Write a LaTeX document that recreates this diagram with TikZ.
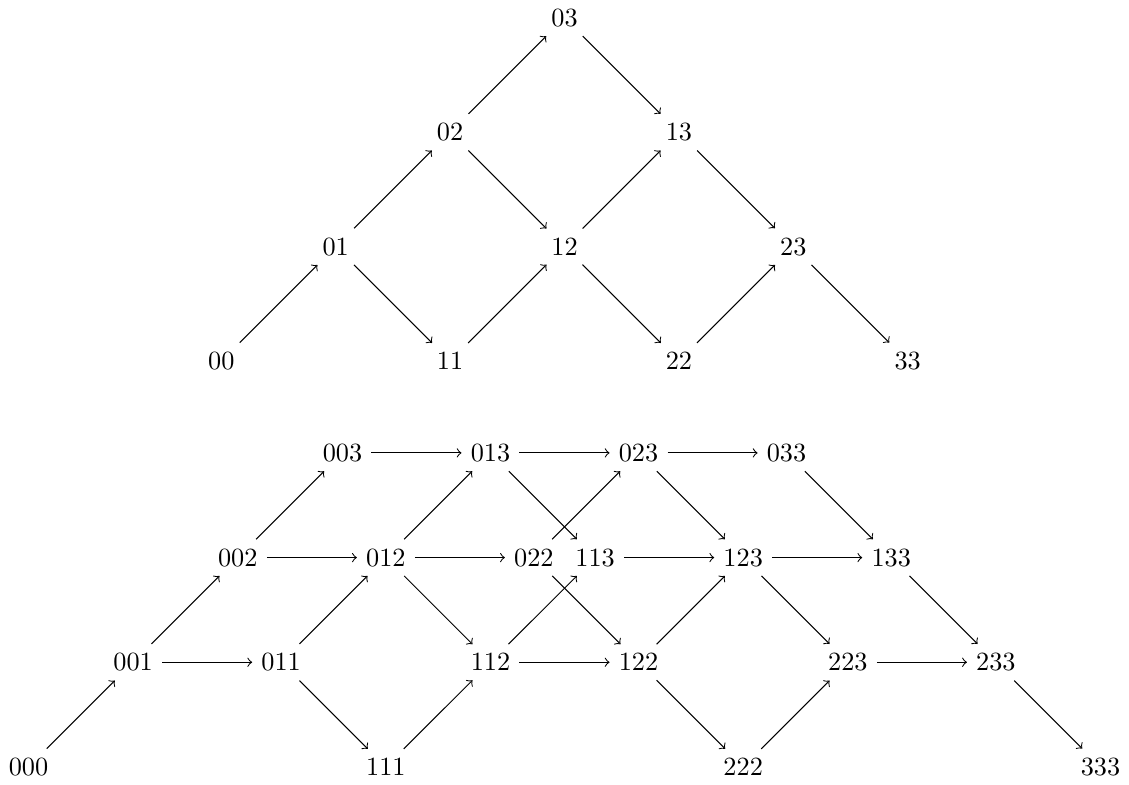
\documentclass[tikz,border=0pt]{standalone}
\begin{document}
\begin{tikzpicture}[>=to,
		every node/.style = {shape=rectangle, align=center},
		arr/.style = {->}]
		\node (t00) at (2.58,5.43) {00};
		\node (t01) at (4.11,6.96) {01};
		\node (t02) at (5.64,8.49) {02};
		\node (t03) at (7.17,10.02) {03};
		\node (t11) at (5.64,5.43) {11};
		\node (t12) at (7.17,6.96) {12};
		\node (t13) at (8.70,8.49) {13};
		\node (t22) at (8.70,5.43) {22};
		\node (t23) at (10.23,6.96) {23};
		\node (t33) at (11.76,5.43) {33};
		\path[arr] (t00) edge (t01)
			(t01) edge (t02) edge (t11)
			(t02) edge (t03) edge (t12)
			(t03) edge (t13)
			(t11) edge (t12)
			(t12) edge (t13) edge (t22)
			(t13) edge (t23)
			(t22) edge (t23)
			(t23) edge (t33);
		\node (b000) at (0,0) {000};
		\node (b001) at (1.4,1.4) {001};
		\node (b002) at (2.8,2.8) {002};
		\node (b003) at (4.2,4.2) {003};
		\node (b011) at (3.38,1.4) {011};
		\node (b012) at (4.78,2.8) {012};
		\node (b013) at (6.18,4.2) {013};
		\node (b022) at (6.76,2.8) {022};
		\node (b023) at (8.16,4.2) {023};
		\node (b033) at (10.14,4.2) {033};
		\node (b111) at (4.78,0) {111};
		\node (b112) at (6.18,1.4) {112};
		\node (b113) at (7.58,2.8) {113};
		\node (b122) at (8.16,1.4) {122};
		\node (b123) at (9.56,2.8) {123};
		\node (b133) at (11.54,2.8) {133};
		\node (b222) at (9.56,0) {222};
		\node (b223) at (10.96,1.4) {223};
		\node (b233) at (12.94,1.4) {233};
		\node (b333) at (14.34,0) {333};
		\path[arr] (b000) edge (b001)
			(b001) edge (b002) edge (b011)
			(b002) edge (b003) edge (b012)
			(b003) edge (b013)
			(b011) edge (b012) edge (b111)
			(b012) edge (b013) edge (b022) edge (b112)
			(b013) edge (b023) edge (b113)
			(b022) edge (b023) edge (b122)
			(b023) edge (b033) edge (b123)
			(b033) edge (b133)
			(b111) edge (b112)
			(b112) edge (b113) edge (b122)
			(b113) edge (b123)
			(b122) edge (b123) edge (b222)
			(b123) edge (b133) edge (b223)
			(b133) edge (b233)
			(b222) edge (b223)
			(b223) edge (b233)
			(b233) edge (b333);
	\end{tikzpicture}
\end{document}
